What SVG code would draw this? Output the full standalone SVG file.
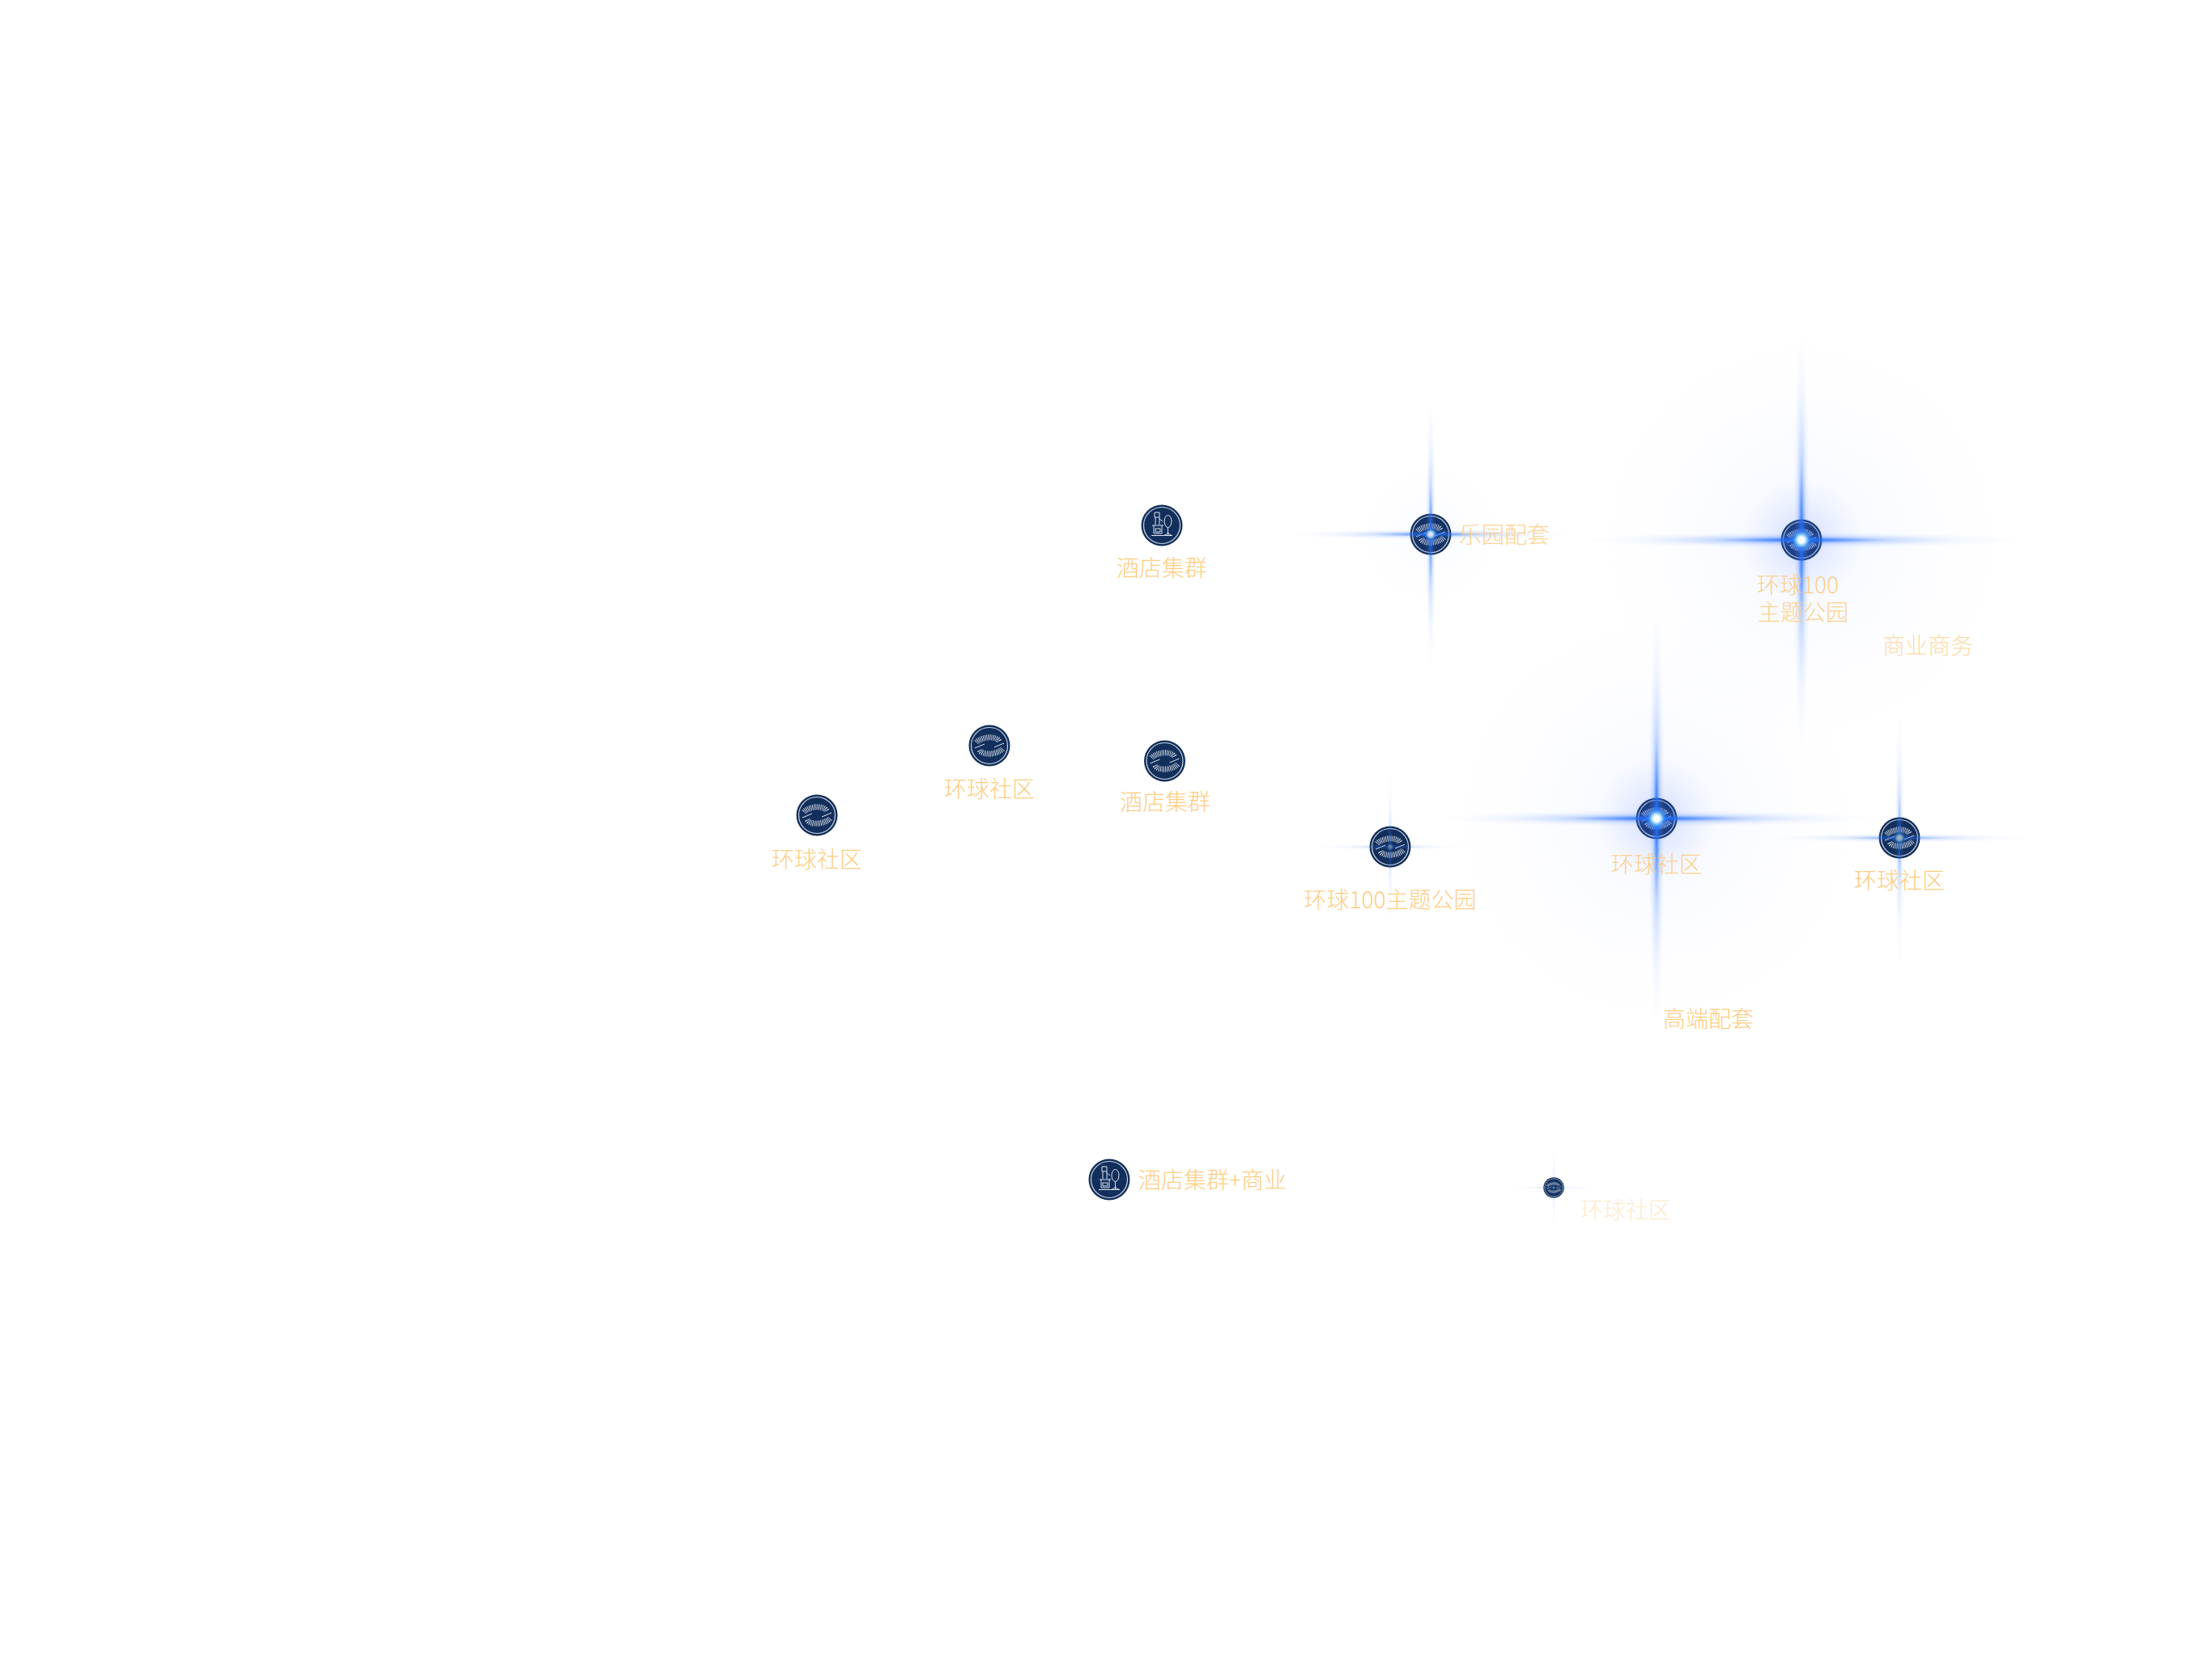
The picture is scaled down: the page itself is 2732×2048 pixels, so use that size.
<svg xmlns="http://www.w3.org/2000/svg" xmlns:xlink="http://www.w3.org/1999/xlink" width="2732" height="2048" viewBox="0 0 2732 2048">
<style>
.lbl{font-family:"Noto Sans CJK SC","Noto Sans",sans-serif;font-size:28px;font-weight:300;fill:#fdcd82}
.mid{text-anchor:middle}
.disc{fill:#122f5b}
.ring{fill:none;stroke:#cdd6e4;stroke-width:1.2}
.ic{fill:none;stroke:#dde4ee;stroke-width:1}
.fan{fill:none;stroke:#e6ebf3;stroke-width:7;stroke-dasharray:.8 1.2}
</style>
<defs>
<radialGradient id="line"><stop offset="0" stop-color="#1a6cff"/><stop offset=".1" stop-color="#1a6cff" stop-opacity=".75"/><stop offset=".4" stop-color="#3f80ff" stop-opacity=".26"/><stop offset=".7" stop-color="#6f9fff" stop-opacity=".09"/><stop offset="1" stop-color="#8fb4ff" stop-opacity="0"/></radialGradient>
<radialGradient id="halo"><stop offset="0" stop-color="#3f73ff" stop-opacity=".4"/><stop offset=".12" stop-color="#3a6cff" stop-opacity=".14"/><stop offset=".3" stop-color="#5a85ff" stop-opacity=".04"/><stop offset=".6" stop-color="#6a90ff" stop-opacity=".018"/><stop offset="1" stop-color="#7a9cff" stop-opacity="0"/></radialGradient>
<radialGradient id="core"><stop offset="0" stop-color="#fff"/><stop offset=".22" stop-color="#fff"/><stop offset=".42" stop-color="#a8e2ff" stop-opacity=".9"/><stop offset=".68" stop-color="#2f94ff" stop-opacity=".5"/><stop offset="1" stop-color="#1566ff" stop-opacity="0"/></radialGradient>
<circle id="glow" r="250" fill="url(#halo)"/>
<g id="flare">
<ellipse rx="270" ry="10" fill="url(#line)"/>
<ellipse rx="10" ry="260" fill="url(#line)"/>
<ellipse rx="130" ry="1.8" fill="url(#line)" opacity=".7"/>
<ellipse rx="1.8" ry="130" fill="url(#line)" opacity=".7"/>
<circle r="15" fill="url(#core)"/>
</g>
<g id="community">
<path class="fan" d="M-16,-4 C-10,-11 9,-13 12,-5"/>
<path class="fan" d="M16,4 C10,11 -9,13 -12,5"/>
<path class="ic" d="M-18,3 L-6,-2 M18,-3 L6,2"/>
</g>
<g id="hotel">
<path class="ic" d="M-13,12.5 H13 M-12,0 H2 M-10,0 V10 H0 V0 M-8,4 H-2 V8 H-8 Z M-9,-16 H-3 V-10 H-9 Z M-8,-10 V-1 M-3,-10 V-1 M-3,-8 L1,-5 M7.5,2.5 V12.5 M3,12.5 L7.5,9.5 L12,12.5"/>
<ellipse class="ic" cx="7.5" cy="-5" rx="4.5" ry="7.5"/>
</g>
</defs>
<rect width="2732" height="2048" fill="#fff"/>

<g id="node-hotel-top"><circle class="disc" cx="1435" cy="649" r="25.5"/><circle class="ring" cx="1435" cy="649" r="22.5"/><use href="#hotel" x="1435" y="649"/><text class="lbl mid" x="1435" y="712">酒店集群</text></g>
<g id="node-community-a"><circle class="disc" cx="1009" cy="1007" r="25.5"/><circle class="ring" cx="1009" cy="1007" r="22.5"/><use href="#community" x="1009" y="1007"/><text class="lbl mid" x="1009" y="1072">环球社区</text></g>
<g id="node-community-b"><circle class="disc" cx="1222" cy="921" r="25.5"/><circle class="ring" cx="1222" cy="921" r="22.5"/><use href="#community" x="1222" y="921"/><text class="lbl mid" x="1222" y="985">环球社区</text></g>
<g id="node-hotel-mid"><circle class="disc" cx="1438.5" cy="940" r="25.5"/><circle class="ring" cx="1438.5" cy="940" r="22.5"/><use href="#community" x="1438.5" y="940"/><text class="lbl mid" x="1439" y="1001">酒店集群</text></g>
<g id="node-hotel-commerce"><circle class="disc" cx="1370" cy="1457" r="25.5"/><circle class="ring" cx="1370" cy="1457" r="22.5"/><use href="#hotel" x="1370" y="1457"/><use href="#flare" transform="translate(1370 1457) scale(.12)" opacity=".3"/><text class="lbl" x="1406" y="1468">酒店集群+商业</text></g>
<g id="node-park-a"><circle class="disc" cx="1717" cy="1046" r="25.5"/><circle class="ring" cx="1717" cy="1046" r="22.5"/><use href="#community" x="1717" y="1046"/><use href="#flare" transform="translate(1717 1046) scale(.36)" opacity=".4"/><text class="lbl mid" x="1717" y="1122">环球100主题公园</text></g>
<g id="node-park-support"><circle class="disc" cx="1767" cy="660" r="25.5"/><circle class="ring" cx="1767" cy="660" r="22.5"/><use href="#community" x="1767" y="660"/><use href="#glow" transform="translate(1767 660) scale(.35)" opacity=".6"/><use href="#flare" transform="translate(1767 660) scale(.64)" opacity=".85"/><text class="lbl" x="1802" y="671" opacity=".85">乐园配套</text></g>
<g id="node-park-b"><circle class="disc" cx="2225" cy="667" r="25.5"/><circle class="ring" cx="2225" cy="667" r="22.5"/><use href="#community" x="2225" y="667"/><use href="#glow" transform="translate(2225 667)"/><use href="#flare" transform="translate(2225 667)"/><text class="lbl" opacity=".9"><tspan x="2170" y="733">环球100</tspan><tspan x="2171" y="767">主题公园</tspan></text></g>
<g id="node-commerce"><text class="lbl" x="2325" y="808" opacity=".7">商业商务</text></g>
<g id="node-community-c"><circle class="disc" cx="2046" cy="1011" r="25.5"/><circle class="ring" cx="2046" cy="1011" r="22.5"/><use href="#community" x="2046" y="1011"/><use href="#glow" transform="translate(2046 1011)"/><use href="#flare" transform="translate(2046 1011)"/><text class="lbl mid" x="2046" y="1078" opacity=".9">环球社区</text></g>
<g id="node-community-d"><circle class="disc" cx="2346" cy="1035" r="25.5"/><circle class="ring" cx="2346" cy="1035" r="22.5"/><use href="#community" x="2346" y="1035"/><use href="#flare" transform="translate(2346 1035) scale(.6)" opacity=".6"/><text class="lbl mid" x="2346" y="1098">环球社区</text></g>
<g id="node-premium"><text class="lbl" x="2054" y="1269">高端配套</text></g>
<g id="node-community-e"><g transform="translate(1919 1467) scale(.5)"><circle class="disc" r="25.5"/><circle class="ring" r="22.5"/><use href="#community"/></g><use href="#flare" transform="translate(1919 1467) scale(.2)" opacity=".35"/><text class="lbl" x="1952" y="1505" opacity=".4">环球社区</text></g>
</svg>
